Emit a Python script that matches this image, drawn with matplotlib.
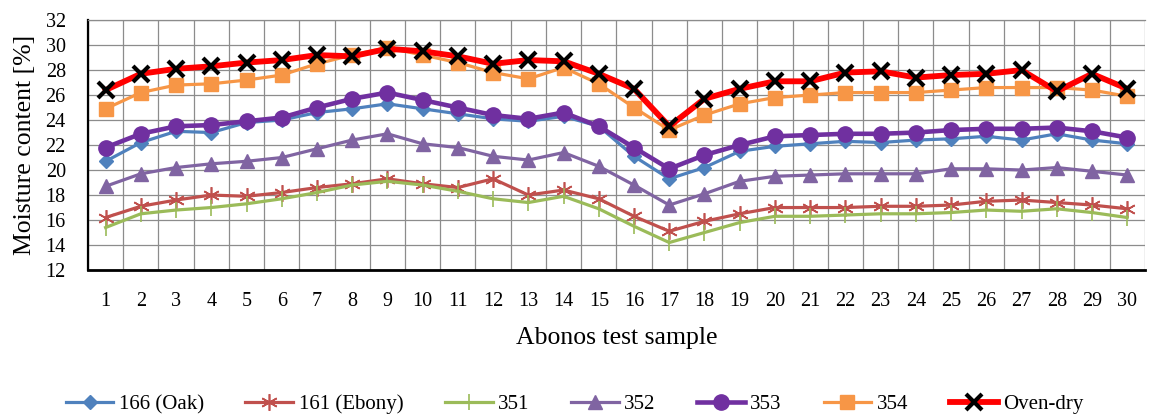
import matplotlib.pyplot as plt
import numpy as np

plt.rcParams['font.family'] = ['Liberation Serif', 'DejaVu Serif']

samples = list(range(1, 31))
oak_166 = [20.7, 22.2, 23.1, 23.0, 23.8, 24.0, 24.6, 24.9, 25.3, 24.9, 24.5, 24.1, 23.9, 24.3, 23.5,
           21.1, 19.3, 20.2, 21.5, 21.9, 22.1, 22.3, 22.2, 22.4, 22.5, 22.7, 22.4, 22.9, 22.4, 22.1]
ebony_161 = [16.2, 17.1, 17.6, 18.0, 17.9, 18.2, 18.6, 18.9, 19.3, 18.9, 18.6, 19.3, 18.0, 18.4, 17.7,
             16.3, 15.1, 15.9, 16.5, 17.0, 17.0, 17.0, 17.1, 17.1, 17.2, 17.5, 17.6, 17.4, 17.2, 16.9]
s351 = [15.4, 16.5, 16.8, 17.0, 17.3, 17.7, 18.2, 18.8, 19.1, 18.8, 18.3, 17.7, 17.4, 17.9, 16.9,
        15.5, 14.2, 15.0, 15.8, 16.3, 16.3, 16.4, 16.5, 16.5, 16.6, 16.8, 16.7, 16.9, 16.6, 16.2]
s352 = [18.7, 19.7, 20.2, 20.5, 20.7, 21.0, 21.7, 22.4, 22.9, 22.1, 21.8, 21.1, 20.8, 21.4, 20.3,
        18.8, 17.2, 18.1, 19.1, 19.5, 19.6, 19.7, 19.7, 19.7, 20.1, 20.1, 20.0, 20.2, 19.9, 19.6]
s353 = [21.8, 22.9, 23.5, 23.6, 23.9, 24.2, 25.0, 25.7, 26.2, 25.6, 25.0, 24.4, 24.1, 24.6, 23.5,
        21.8, 20.1, 21.2, 22.0, 22.7, 22.8, 22.9, 22.9, 23.0, 23.2, 23.3, 23.3, 23.4, 23.1, 22.6]
s354 = [24.9, 26.2, 26.8, 26.9, 27.2, 27.6, 28.5, 29.2, 29.8, 29.2, 28.6, 27.8, 27.3, 28.2, 26.9,
        25.0, 23.2, 24.4, 25.3, 25.8, 26.0, 26.2, 26.2, 26.2, 26.4, 26.6, 26.6, 26.6, 26.4, 25.9]
oven_dry = [26.4, 27.7, 28.1, 28.3, 28.6, 28.8, 29.2, 29.1, 29.7, 29.5, 29.1, 28.5, 28.8, 28.7, 27.7,
            26.5, 23.5, 25.7, 26.5, 27.1, 27.1, 27.8, 27.9, 27.4, 27.6, 27.7, 28.0, 26.3, 27.7, 26.5]

fig = plt.figure(figsize=(11.5, 4.18), dpi=100)
ax = fig.add_axes([0.0765, 0.354, 0.919, 0.598])

grid_col = '#8c8c8c'

ax.plot(samples, oak_166, color='#4F81BD', lw=2.3, marker='D', ms=7.5, label='166 (Oak)')
ax.plot(samples, ebony_161, color='#C0504D', lw=2.3, marker=(6, 2, 0), ms=12, mew=1.2, label='161 (Ebony)')
ax.plot(samples, s351, color='#9BBB59', lw=2.3, marker='|', ms=11, mew=1.2, label='351')
ax.plot(samples, s352, color='#8064A2', lw=2.3, marker='^', ms=9.5, label='352')
ax.plot(samples, s353, color='#7030A0', lw=3.3, marker='o', ms=11, label='353')
ax.plot(samples, s354, color='#F79646', lw=2.3, marker='s', ms=9.5, label='354')
ax.plot(samples, oven_dry, color='#FF0000', lw=4.2, marker='x', ms=11, mec='black', mew=3, label='Oven-dry')

ax.set_xlim(0.5, 30.5)
ax.set_ylim(12, 32)
ax.set_yticks(np.arange(12, 33, 2))
ax.set_xticks(samples)
ax.set_xticks(np.arange(0.5, 31, 1), minor=True)
ax.grid(False)
ax.grid(True, which='minor', axis='x', color=grid_col, lw=0.9)
ax.grid(True, which='major', axis='y', color=grid_col, lw=0.9)
ax.set_axisbelow(True)
ax.tick_params(axis='both', which='both', length=0, labelsize=14.5)
ax.tick_params(axis='x', pad=16)
ax.tick_params(axis='y', pad=16)
ax.spines['right'].set_visible(False)
ax.spines['top'].set_color(grid_col)
ax.spines['top'].set_linewidth(0.9)
ax.spines['left'].set_linewidth(1.6)
ax.spines['bottom'].set_linewidth(2)

ax.set_xlabel('Abonos test sample', fontsize=18.5, labelpad=11)
ax.set_ylabel('Moisture content [%]', fontsize=18.5, labelpad=7)

fig.legend(loc='center', bbox_to_anchor=(0.4995, 0.032), ncol=7, frameon=False, fontsize=15,
           handlelength=2.3, columnspacing=2.0, handletextpad=0.25)

fig.savefig('out.png', dpi=100)
